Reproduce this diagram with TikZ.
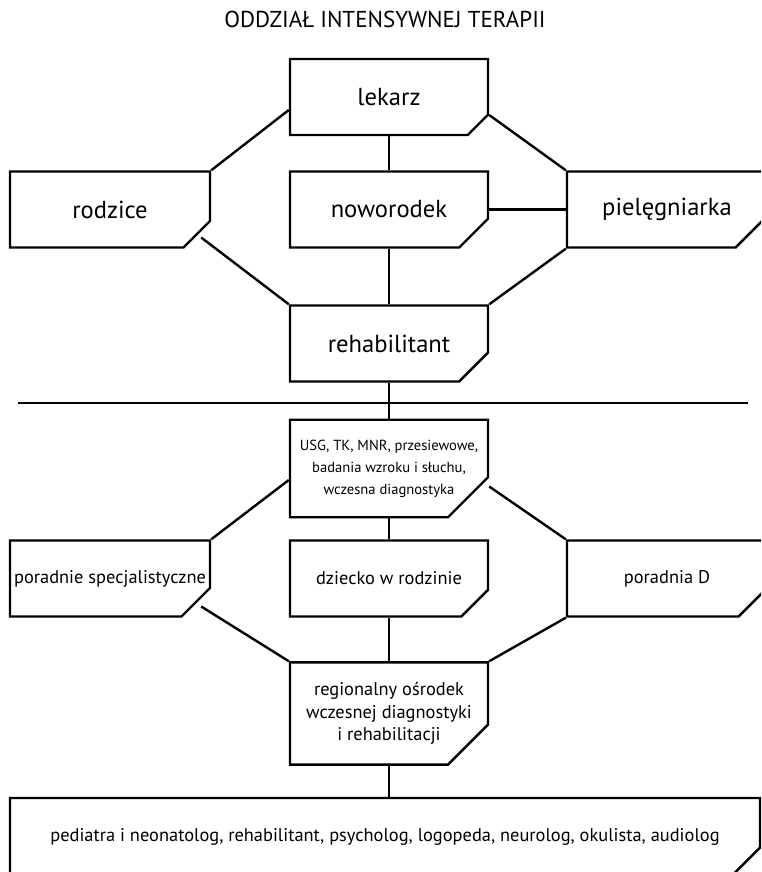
\documentclass[tikz,border=0pt]{standalone}
\usepackage{fontspec}
\setmainfont{PT Sans}
\usetikzlibrary{shapes.misc}

\begin{document}
\begin{tikzpicture}[x=0.5pt,y=-0.5pt,line width=1.2pt,
    cutbox/.style={chamfered rectangle,chamfered rectangle corners=south east,
      chamfered rectangle sep=10pt,draw,inner xsep=-10pt,inner ysep=0pt,
      align=center,minimum height=38pt},
    midbox/.style={cutbox,minimum width=99pt},
    sidebox/.style={cutbox,minimum width=100pt}
  ]

  \clip (0,0) rectangle (761,872);

  % title
  \node (titel) [anchor=base,font=\fontsize{11.5}{13}\selectfont] at (385,28)
    {ODDZIAŁ INTENSYWNEJ TERAPII};

  \begin{scope}[every node/.append style={font=\fontsize{12.3}{15}\selectfont}]
    % upper part
    \node (lekarz) [midbox] at (389,97) {lekarz};
    \node (noworodek) [midbox] at (389,209.5) {noworodek};
    \node (rehab) [midbox] at (389,343.5) {rehabilitant};
    \node (rodzice) [sidebox] at (110,209.5) {rodzice};
    \node (piel) [sidebox] at (667,209.5) {pielęgniarka};
  \end{scope}

  \draw (lekarz.south) -- (noworodek.north);
  \draw (noworodek.south) -- (rehab.north);
  \draw (noworodek.east) -- (piel.west);
  \draw ([shift={(0,13)}]lekarz.west) -- (rodzice.north east);
  \draw ([shift={(0,18)}]lekarz.east) -- (piel.north west);
  \draw ([shift={(-10,28)}]rodzice.east) -- (rehab.north west);
  \draw (piel.south west) -- (rehab.north east);

  % separator
  \coordinate (sepL) at (18,403);
  \coordinate (sepR) at (748,403);
  \draw (sepL) -- (sepR);

  \begin{scope}[every node/.append style={font=\fontsize{9.2}{11.25}\selectfont}]
    % lower part
    \node (usg) [midbox,font=\fontsize{7.3}{11}\selectfont] at (389,468.5)
      {USG, TK, MNR, przesiewowe,\\badania wzroku i słuchu,\\wczesna diagnostyka};
    \node (dziecko) [midbox] at (389,578.5) {dziecko w rodzinie};
    \node (osrodek) [midbox] at (389,713.5)
      {regionalny ośrodek\\wczesnej diagnostyki\\i rehabilitacji};
    \node (poradnie) [sidebox] at (110,578.5) {poradnie specjalistyczne};
    \node (poradniaD) [sidebox] at (667,578.5) {poradnia D};
    \node (zespol) [cutbox,minimum width=375pt,minimum height=39pt] at (385,837)
      {pediatra i neonatolog, rehabilitant, psycholog, logopeda, neurolog, okulista, audiolog};
  \end{scope}

  \draw (rehab.south) -- (usg.north);
  \draw (usg.south) -- (dziecko.north);
  \draw (dziecko.south) -- (osrodek.north);
  \draw ([shift={(0,11.5)}]usg.west) -- (poradnie.north east);
  \draw ([shift={(0,18)}]usg.east) -- (poradniaD.north west);
  \draw ([shift={(-10,28)}]poradnie.east) -- (osrodek.north west);
  \draw (poradniaD.south west) -- (osrodek.north east);
  \draw (osrodek.south) -- (osrodek.south |- zespol.north);
\end{tikzpicture}
\end{document}
